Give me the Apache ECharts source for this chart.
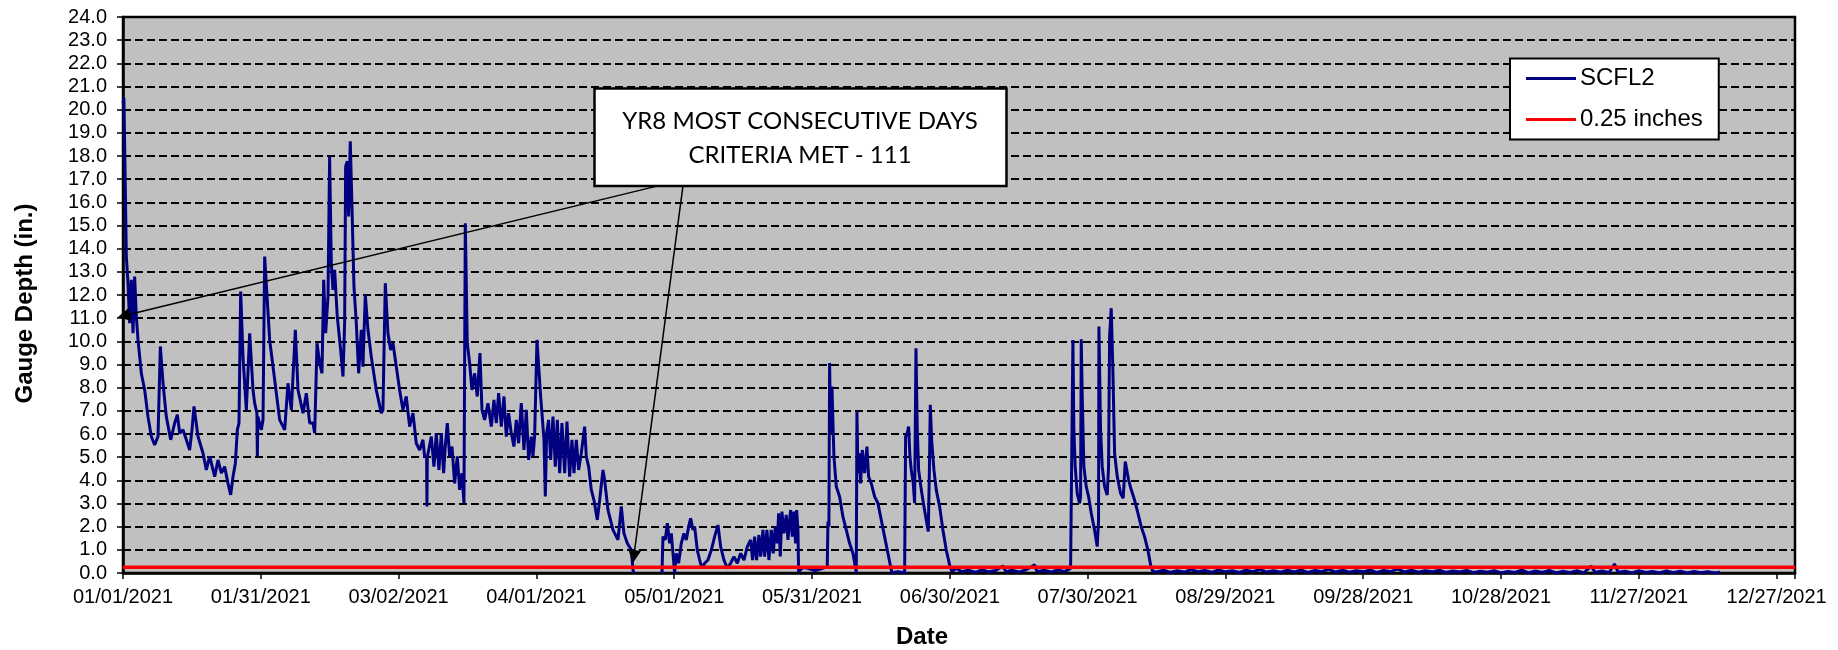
<!DOCTYPE html>
<html><head><meta charset="utf-8">
<script src="https://cdn.jsdelivr.net/npm/echarts/dist/echarts.min.js"></script>
<style>html,body{margin:0;padding:0;background:#fff}#c{width:1838px;height:650px}</style>
</head><body><div id="c"></div>
<script>
// ---- data (x = days since 01/01/2021) ----
const xTickLabels = ['01/01/2021','01/31/2021','03/02/2021','04/01/2021','05/01/2021','05/31/2021','06/30/2021','07/30/2021','08/29/2021','09/28/2021','10/28/2021','11/27/2021','12/27/2021'];
const seriesNames = ['SCFL2', '0.25 inches'];
const dayOffset = [
0,0.2,0.51,0.73,1.09,1.45,1.81,2.18,2.54,2.9,3.27,3.99,4.72,5.44,6.17,6.89,7.62,8.13,8.71,9.43,10.38,11.25,11.83,12.34,13.06,13.79,14.51,15.02,15.46,16.33,17.42,18.14,18.87,19.96,20.68,21.41,22.13,22.86,23.44,23.95,24.46,24.89,25.25,25.62,26.12,26.85,27.58,28.3,28.66,29.15,29.25,29.35,30.12,30.48,30.84,31.21,31.93,33.02,34.11,35.2,35.92,36.65,37.52,38.1,39.19,39.91,40.64,41.36,41.73,42.24,42.82,43.32,43.69,44.12,44.63,44.98,
45.35,45.71,46.07,46.65,47.38,47.89,48.25,48.47,48.83,49.12,49.48,49.85,50.28,50.79,51.3,51.88,52.24,52.75,53.33,54.05,55.14,56.23,56.59,57.1,57.68,58.26,58.77,59.5,60.22,60.95,61.67,62.4,63.12,63.85,64.58,65.3,65.66,66.1,66.17,66.25,66.54,67.12,67.7,68.2,68.78,69.29,69.8,70.16,70.6,71.11,71.62,72.2,72.78,73.28,73.79,74.23,74.52,74.95,75.46,75.97,76.55,77.13,77.71,78.15,78.73,79.45,80.18,80.76,81.27,81.78,82.36,82.94,83.44,83.95,84.53,85.11,85.62,86.13,86.71,87.29,87.8,88.31,88.89,89.25,89.61,90.12,
90.92,91.21,91.65,91.94,92.23,92.66,93.1,93.61,94.11,94.55,95.06,95.56,96.15,96.65,97.23,97.74,98.18,98.69,99.19,99.77,100.5,100.86,101.37,101.95,102.53,103.26,103.77,104.49,104.85,105.58,106.67,107.76,108.48,109.06,109.79,110.66,111.02,111.24,111.5,
117.34,117.55,118.06,118.5,119.0,119.37,119.73,120.09,120.46,120.96,121.54,122.12,122.63,123.14,123.58,124.08,124.45,125.03,125.54,126.04,126.62,127.35,128.08,128.8,129.53,130.11,130.83,131.56,132.28,133.01,133.74,134.46,135.19,135.91,136.64,
137.07,137.5,137.94,138.44,138.81,139.32,139.68,140.19,140.62,141.13,141.57,142.0,142.44,142.73,143.09,143.45,143.89,144.4,144.76,145.34,145.7,146.07,146.43,146.65,146.94,147.08,148.02,149.11,150.56,151.65,153.32,153.47,153.68,153.83,154.05,154.34,154.77,155.28,156.0,156.73,157.46,158.18,158.91,159.42,159.64,159.78,160.0,160.29,160.58,160.95,161.45,161.96,162.32,162.9,163.63,164.35,165.08,165.8,166.53,167.11,167.4,168.71,170.16,170.38,170.74,171.03,171.32,171.61,172.04,172.34,172.63,172.92,173.21,173.79,174.37,174.87,175.31,175.53,175.75,176.04,176.54,177.05,177.78,178.5,179.23,179.95,180.46,
181.41,182.49,184.0,185.5,187.0,188.5,190.0,191.56,192.2,193.5,195.0,196.5,198.45,199.0,200.5,202.0,203.5,205.0,206.29,206.65,206.8,207.01,207.3,207.74,208.25,208.47,208.61,208.83,209.19,209.7,210.21,210.79,211.51,212.09,212.38,212.46,212.82,213.18,213.69,214.27,214.56,214.78,215.14,215.5,215.87,216.45,217.17,217.75,218.19,218.48,218.92,219.5,220.22,220.95,221.67,222.4,223.12,223.71,224.21,
225.0,226.5,228.0,229.5,231.0,232.5,234.0,235.5,237.0,238.5,240.0,241.5,243.0,244.5,246.0,247.5,249.0,250.5,252.0,253.5,255.0,256.5,258.0,259.5,261.0,262.5,264.0,265.5,267.0,268.5,270.0,271.5,273.0,274.5,276.0,277.5,279.0,280.5,282.0,283.5,285.0,286.5,288.0,289.5,291.0,292.5,294.0,295.5,297.0,298.5,300.0,301.5,303.0,304.5,306.0,307.5,309.0,310.5,312.0,313.5,315.0,316.5,318.0,319.6,320.5,322.0,323.5,324.7,325.5,327.0,328.5,330.0,331.5,333.0,334.5,336.0,337.5,339.0,340.5,342.0,343.5,345.0,346.5,347.7
];
const depthIn = [
20.3,20.5,16.54,13.66,12.51,10.78,12.66,10.35,12.8,11.07,10.06,8.62,7.9,6.75,5.89,5.53,5.89,9.78,8.19,6.75,5.75,6.47,6.83,6.03,6.18,5.75,5.31,6.18,7.19,5.89,5.17,4.45,5.03,4.16,4.88,4.31,4.59,3.87,3.37,4.16,4.74,6.18,6.47,12.15,9.34,7.04,10.35,7.9,7.33,6.9,5.03,6.75,6.18,6.61,13.66,13.59,10.06,8.34,6.61,6.18,8.19,7.04,10.5,7.9,6.9,7.76,6.47,6.47,6.03,9.92,9.06,8.62,12.66,10.35,11.94,17.98,
13.38,12.22,13.09,11.07,9.63,8.48,10.78,17.55,17.77,15.39,18.63,15.82,12.37,10.78,8.62,10.5,8.91,12.01,10.5,9.34,7.9,6.9,7.04,12.51,10.35,9.63,9.92,8.91,7.9,7.04,7.62,6.32,6.9,5.6,5.31,5.75,5.03,5.0,2.87,5.0,5.03,5.89,4.59,6.03,4.45,6.03,4.31,5.46,6.47,5.03,5.46,3.87,5.03,3.59,4.31,3.01,15.1,9.92,9.06,7.9,8.62,7.62,9.49,7.04,6.61,7.33,6.32,7.47,6.47,7.76,6.32,7.62,5.89,6.9,6.03,5.46,6.61,5.6,7.33,5.31,7.04,4.88,5.89,5.03,5.89,10.06,
7.62,6.9,5.75,3.3,6.03,6.61,4.88,6.75,4.59,6.61,4.31,6.47,4.31,6.54,4.16,5.75,4.31,5.75,4.45,5.17,6.32,5.03,4.59,3.59,3.15,2.29,3.15,4.45,4.02,2.72,1.86,1.43,2.87,1.71,1.28,0.99,0.13,0.0,null,
0.0,1.57,1.43,2.15,1.28,1.71,0.85,0.0,0.85,0.42,1.28,1.71,1.43,2.0,2.36,1.86,2.0,0.99,0.56,0.2,0.42,0.56,0.99,1.57,2.07,1.14,0.56,0.2,0.42,0.71,0.42,0.85,0.56,1.14,1.43,
0.56,1.57,0.56,1.64,0.71,1.86,0.71,1.86,0.56,1.86,0.85,2.0,1.28,2.58,0.71,2.65,1.71,2.51,1.43,2.72,1.57,2.65,1.28,2.72,1.86,0.06,0.24,0.2,0.1,0.16,0.27,2.22,2.0,9.06,6.03,8.05,5.03,3.73,3.3,2.43,1.86,1.28,0.85,0.27,0.01,6.97,4.31,5.17,3.87,5.31,4.31,5.46,4.16,3.87,3.3,3.01,2.29,1.57,0.85,0.27,0.01,0.06,0.01,5.89,6.03,6.32,5.03,4.45,3.87,3.01,9.7,6.18,4.45,3.59,2.87,2.29,1.79,4.16,7.26,5.75,4.45,3.59,2.87,1.86,0.99,0.35,0.06,
0.2,0.06,0.12,0.03,0.13,0.05,0.11,0.3,0.06,0.12,0.04,0.13,0.35,0.06,0.12,0.04,0.13,0.06,0.2,0.13,10.06,6.18,4.59,3.44,3.01,3.3,10.09,7.62,4.59,3.73,3.3,2.58,1.86,1.14,2.29,10.64,6.18,4.59,3.73,3.37,4.59,10.21,11.43,8.77,5.17,4.16,3.44,3.23,4.81,4.88,4.02,3.59,3.15,2.58,2.0,1.57,0.99,0.35,0.06,
0.05,0.12,0.02,0.1,0.04,0.14,0.06,0.11,0.03,0.13,0.05,0.1,0.02,0.12,0.06,0.15,0.04,0.1,0.03,0.12,0.05,0.13,0.02,0.11,0.06,0.16,0.04,0.12,0.03,0.1,0.05,0.13,0.02,0.11,0.06,0.18,0.04,0.12,0.03,0.1,0.05,0.12,0.02,0.09,0.04,0.11,0.01,0.08,0.03,0.1,0.0,0.07,0.02,0.12,0.0,0.09,0.02,0.11,0.0,0.08,0.01,0.1,0.0,0.3,0.02,0.09,0.01,0.39,0.03,0.08,0.0,0.1,0.02,0.07,0.0,0.09,0.01,0.08,0.0,0.07,0.01,0.06,0.0,0.03
];
const thresholdDays = [0, 364];
const thresholdIn = [0.25, 0.25];
const calloutText = ['YR8 MOST CONSECUTIVE DAYS', 'CRITERIA MET - 111'];
// callout arrows: [start(day, in.), end(day, in.)]
const calloutArrows = [[[116.24, 16.70], [0.17, 11.1]], [[121.9, 16.70], [111.2, 0.71]]];

// ---- chart ----
const FONT = "'Liberation Sans', Arial, sans-serif";
const chart = echarts.init(document.getElementById('c'), null, {renderer: 'canvas'});
const mainData = dayOffset.map((d, i) => [d, depthIn[i]]);
const thrData = thresholdDays.map((d, i) => [d, thresholdIn[i]]);

chart.setOption({
  animation: false,
  backgroundColor: '#ffffff',
  textStyle: {fontFamily: FONT},
  grid: {left: 123, right: 43, top: 17, bottom: 77, show: true, backgroundColor: '#C0C0C0',
         borderColor: '#000', borderWidth: 2.5, containLabel: false, outerBoundsMode: 'none'},
  legend: {
    orient: 'vertical', left: 1510, top: 58.5,
    backgroundColor: '#fff', borderColor: '#000', borderWidth: 2,
    padding: [8, 16, 8, 16], itemWidth: 50, itemHeight: 3, itemGap: 17,
    textStyle: {fontSize: 24, fontFamily: FONT, color: '#000', padding: [0, 0, 0, -1]},
    data: [
      {name: seriesNames[0], icon: 'rect', itemStyle: {color: '#000080'}},
      {name: seriesNames[1], icon: 'rect', itemStyle: {color: '#FF0000'}}
    ]
  },
  xAxis: {
    type: 'value', min: 0, max: 364, interval: 30,
    axisLine: {show: true, onZero: false, lineStyle: {color: '#000', width: 2.5}},
    axisTick: {show: true, length: 6, lineStyle: {color: '#000', width: 1.5}},
    axisLabel: {margin: 14, fontSize: 20, fontFamily: FONT, color: '#000',
      formatter: v => (Math.abs(v % 30) < 1e-6 && xTickLabels[v / 30]) ? xTickLabels[v / 30] : ''},
    splitLine: {show: false},
    name: 'Date', nameLocation: 'middle', nameGap: 52, nameMoveOverlap: false,
    nameTextStyle: {fontSize: 24, fontWeight: 'bold', fontFamily: FONT, color: '#000', padding: [0, 74, 0, 0]}
  },
  yAxis: {
    type: 'value', min: 0, max: 24, interval: 1,
    axisLine: {show: true, lineStyle: {color: '#000', width: 2.5}},
    axisTick: {show: true, length: 6, lineStyle: {color: '#000', width: 1.5}},
    axisLabel: {margin: 16, fontSize: 20, fontFamily: FONT, color: '#000', formatter: v => v.toFixed(1)},
    splitLine: {show: true, lineStyle: {color: '#000', width: 2, type: [8, 4]}},
    name: 'Gauge Depth (in.)', nameLocation: 'middle', nameRotate: 90, nameGap: 86, nameMoveOverlap: false,
    nameTextStyle: {fontSize: 24, fontWeight: 'bold', fontFamily: FONT, color: '#000', padding: [0, 17, 0, 0]}
  },
  series: [
    {
      name: seriesNames[0], type: 'line', data: mainData, symbol: 'none', showSymbol: false,
      connectNulls: false, clip: true, z: 3,
      lineStyle: {color: '#000080', width: 3}, itemStyle: {color: '#000080'}
    },
    {
      name: seriesNames[1], type: 'line', data: thrData, symbol: 'none', showSymbol: false, clip: false, z: 4,
      lineStyle: {color: '#FF0000', width: 3.5}, itemStyle: {color: '#FF0000'},
      markLine: {
        silent: true, animation: false, symbol: ['none', 'triangle'], symbolSize: 13,
        lineStyle: {color: '#000', width: 1.5, type: 'solid'}, label: {show: false},
        emphasis: {disabled: true},
        data: calloutArrows.map(a => [{coord: a[0]}, {coord: a[1]}])
      }
    }
  ],
  graphic: [
    {type: 'rect', z: 100, shape: {x: 594.5, y: 88.5, width: 412, height: 97.5},
     style: {fill: '#fff', stroke: '#000', lineWidth: 2.5}},
    {type: 'text', z: 101, x: 800, y: 138,
     style: {text: calloutText.join('\n'), align: 'center', verticalAlign: 'middle',
             font: "24px Lato, 'Open Sans', sans-serif", lineHeight: 34, fill: '#000'}}
  ]
});
</script>
</body></html>
